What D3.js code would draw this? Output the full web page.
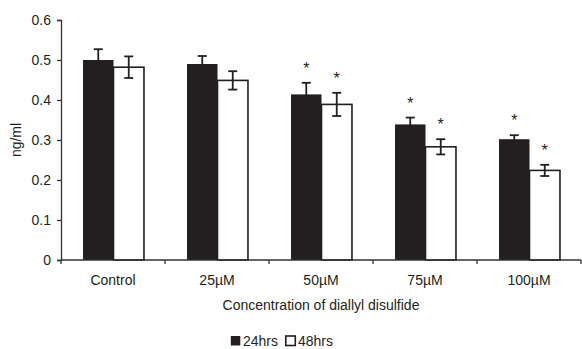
<!DOCTYPE html>
<html>
<head>
<meta charset="utf-8">
<script src="https://cdn.jsdelivr.net/npm/d3@7"></script>
<style>
  body { margin: 0; background: #fff; }
  text { font-family: Arial, "Liberation Sans", sans-serif; fill: #231f20; }
  .axis path, .axis line { stroke: #333; stroke-width: 1.3px; }
  .axis text { font-size: 14px; fill: #231f20; }
</style>
</head>
<body>
<div id="chart"></div>
<script>
// data
var categories = ["Control", "25\u00B5M", "50\u00B5M", "75\u00B5M", "100\u00B5M"];
var seriesNames = ["24hrs", "48hrs"];
var mean24 = [0.500, 0.490, 0.414, 0.339, 0.302];
var err24  = [0.027, 0.020, 0.029, 0.017, 0.010];
var mean48 = [0.482, 0.449, 0.389, 0.283, 0.224];
var err48  = [0.027, 0.023, 0.029, 0.019, 0.014];
var sig24  = [false, false, true, true, true];
var sig48  = [false, false, true, true, true];
var yTicks = [0, 0.1, 0.2, 0.3, 0.4, 0.5, 0.6];

var width = 582, height = 349;
var margin = {top: 20, right: 1, bottom: 89, left: 61};
var barColor = ["#231f20", "#ffffff"];

var svg = d3.select("#chart").append("svg")
    .attr("width", width)
    .attr("height", height);

var x0 = d3.scaleBand()
    .domain(categories)
    .range([margin.left, width - margin.right]);

var barW = x0.bandwidth() * 0.293;

var y = d3.scaleLinear()
    .domain([0, 0.6])
    .range([height - margin.bottom, margin.top]);

// build rows for drawing
var rows = [];
categories.forEach(function (c, i) {
    rows.push({cat: c, s: 0, v: mean24[i], e: err24[i], sig: sig24[i]});
    rows.push({cat: c, s: 1, v: mean48[i], e: err48[i], sig: sig48[i]});
});

function barX(d) {
    var center = x0(d.cat) + x0.bandwidth() / 2 + 0.5;
    return center - barW + d.s * barW;
}

// bars
svg.append("g").selectAll("rect")
    .data(rows)
    .enter().append("rect")
    .attr("x", barX)
    .attr("y", function (d) { return y(d.v); })
    .attr("width", barW)
    .attr("height", function (d) { return y(0) - y(d.v); })
    .attr("fill", function (d) { return barColor[d.s]; })
    .attr("stroke", "#231f20")
    .attr("stroke-width", function (d) { return d.s == 1 ? 1.6 : 0; });

// error bars
var eb = svg.append("g").selectAll("g")
    .data(rows)
    .enter().append("g")
    .attr("stroke", "#231f20")
    .attr("stroke-width", 1.8);

eb.append("line")
    .attr("x1", function (d) { return barX(d) + barW / 2; })
    .attr("x2", function (d) { return barX(d) + barW / 2; })
    .attr("y1", function (d) { return y(d.v - d.e); })
    .attr("y2", function (d) { return y(d.v + d.e); });

eb.append("line")
    .attr("x1", function (d) { return barX(d) + barW / 2 - 4.5; })
    .attr("x2", function (d) { return barX(d) + barW / 2 + 4.5; })
    .attr("y1", function (d) { return y(d.v + d.e); })
    .attr("y2", function (d) { return y(d.v + d.e); });

eb.filter(function (d) { return d.s == 1; }).append("line")
    .attr("x1", function (d) { return barX(d) + barW / 2 - 4.5; })
    .attr("x2", function (d) { return barX(d) + barW / 2 + 4.5; })
    .attr("y1", function (d) { return y(d.v - d.e); })
    .attr("y2", function (d) { return y(d.v - d.e); });

// significance stars
svg.append("g").selectAll("text")
    .data(rows.filter(function (d) { return d.sig; }))
    .enter().append("text")
    .attr("x", function (d) { return barX(d) + barW / 2; })
    .attr("y", function (d) { return y(d.v + d.e) - 9; })
    .attr("text-anchor", "middle")
    .style("font-size", "16px")
    .text("*");

// axes
var yAxis = d3.axisLeft(y).tickValues(yTicks).tickSize(4).tickPadding(6)
    .tickFormat(function (d) { return d == 0 ? "0" : d3.format(".1f")(d); });

svg.append("g")
    .attr("class", "axis")
    .attr("transform", "translate(" + margin.left + ",0)")
    .call(yAxis);

// x axis: ticks at category boundaries, labels centered
var bounds = categories.map(function (c) { return x0(c); }).concat([x0.range()[1]]);
var xg = svg.append("g").attr("class", "axis");
xg.append("line")
    .attr("x1", margin.left).attr("x2", width - margin.right)
    .attr("y1", y(0)).attr("y2", y(0));
xg.selectAll(".tk")
    .data(bounds)
    .enter().append("line")
    .attr("x1", function (d) { return d; })
    .attr("x2", function (d) { return d; })
    .attr("y1", y(0))
    .attr("y2", y(0) + 4);
xg.selectAll("text")
    .data(categories)
    .enter().append("text")
    .attr("x", function (d) { return x0(d) + x0.bandwidth() / 2; })
    .attr("y", y(0) + 25)
    .attr("text-anchor", "middle")
    .text(function (d) { return d; });

// axis titles
svg.append("text")
    .attr("x", (margin.left + width - margin.right) / 2)
    .attr("y", 310)
    .attr("text-anchor", "middle")
    .style("font-size", "14px")
    .text("Concentration of diallyl disulfide");

svg.append("text")
    .attr("transform", "translate(21," + (y(0) + y(0.6)) / 2 + ") rotate(-90)")
    .attr("text-anchor", "middle")
    .style("font-size", "14px")
    .text("ng/ml");

// legend
var legend = svg.append("g").attr("transform", "translate(230,336)");
var lx = [0, 55];
seriesNames.forEach(function (s, i) {
    legend.append("rect")
        .attr("x", lx[i] + 0.8)
        .attr("y", 0)
        .attr("width", 9.5)
        .attr("height", 9.5)
        .attr("fill", barColor[i])
        .attr("stroke", "#231f20")
        .attr("stroke-width", i == 1 ? 1.6 : 0);
    legend.append("text")
        .attr("x", lx[i] + 13)
        .attr("y", 10)
        .style("font-size", "14px")
        .text(s);
});
</script>
</body>
</html>
